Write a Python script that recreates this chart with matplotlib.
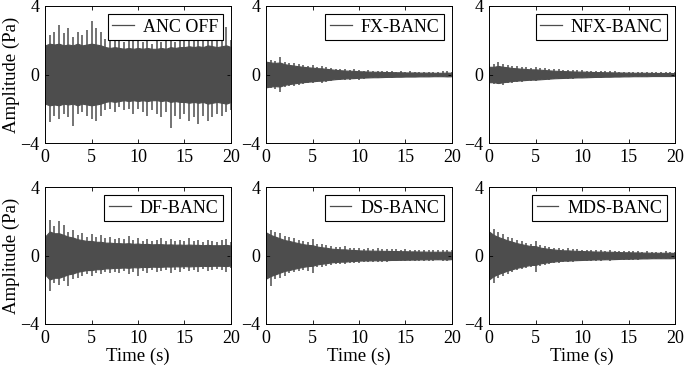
import numpy as np
import matplotlib
matplotlib.use("Agg")
import matplotlib.pyplot as plt

plt.rcParams['font.family'] = ['Liberation Serif', 'DejaVu Serif']
plt.rcParams['font.size'] = 13

# time grid of the envelope readings (s)
time_s = np.arange(0, 20.01, 0.5)

titles = ["ANC OFF", "FX-BANC", "NFX-BANC", "DF-BANC", "DS-BANC", "MDS-BANC"]

# Peak (spike) upper / lower values of each recorded signal (Pa), read every 0.5 s
anc_off_upper = [2.0, 2.3, 2.5, 2.9, 2.4, 2.7, 2.2, 2.5, 2.3, 2.6, 3.1, 2.7, 2.5, 2.1, 2.2, 2.0, 2.1, 1.9, 2.2, 2.0, 2.1,
                 1.9, 2.0, 1.8, 2.1, 1.9, 2.0, 2.3, 1.9, 2.2, 2.0, 2.4, 2.1, 2.3, 2.2, 2.5, 2.1, 2.4, 2.2, 2.8, 2.0]
anc_off_lower = [-2.3, -2.8, -2.4, -2.6, -2.3, -2.5, -3.0, -2.3, -2.2, -2.4, -2.6, -2.7, -2.4, -2.1, -2.0, -2.2, -1.9, -2.1, -2.0, -2.3, -2.0,
                 -2.2, -2.4, -2.1, -2.3, -2.5, -2.2, -3.1, -2.4, -2.6, -2.3, -2.7, -2.5, -2.9, -2.4, -2.7, -2.5, -2.3, -2.4, -2.2, -2.1]

fx_upper = [1.0, 0.85, 0.8, 1.0, 0.75, 0.7, 0.65, 0.6, 0.55, 0.5, 0.55, 0.45, 0.5, 0.42, 0.4, 0.35, 0.32, 0.3, 0.28, 0.3, 0.25,
            0.22, 0.24, 0.2, 0.22, 0.2, 0.18, 0.2, 0.17, 0.18, 0.16, 0.18, 0.15, 0.17, 0.15, 0.16, 0.15, 0.17, 0.18, 0.2, 0.15]
fx_lower = [-0.9, -0.8, -0.85, -1.0, -0.75, -0.7, -0.65, -0.6, -0.55, -0.5, -0.5, -0.45, -0.5, -0.42, -0.38, -0.35, -0.33, -0.3, -0.3, -0.28, -0.3,
            -0.25, -0.22, -0.2, -0.2, -0.18, -0.2, -0.18, -0.17, -0.16, -0.16, -0.17, -0.15, -0.16, -0.14, -0.15, -0.15, -0.16, -0.15, -0.17, -0.15]

nfx_upper = [0.6, 0.6, 0.75, 0.6, 0.55, 0.5, 0.48, 0.45, 0.42, 0.4, 0.42, 0.38, 0.36, 0.33, 0.3, 0.3, 0.28, 0.27, 0.26, 0.25, 0.24,
             0.22, 0.22, 0.2, 0.2, 0.19, 0.18, 0.18, 0.17, 0.16, 0.16, 0.15, 0.15, 0.14, 0.14, 0.14, 0.13, 0.13, 0.13, 0.13, 0.12]
nfx_lower = [-0.8, -0.55, -0.55, -0.6, -0.5, -0.48, -0.45, -0.42, -0.4, -0.38, -0.36, -0.35, -0.33, -0.3, -0.28, -0.27, -0.26, -0.25, -0.24, -0.23, -0.22,
             -0.21, -0.2, -0.19, -0.18, -0.17, -0.17, -0.16, -0.15, -0.15, -0.14, -0.14, -0.13, -0.13, -0.13, -0.12, -0.12, -0.12, -0.12, -0.12, -0.12]

df_upper = [1.2, 2.1, 1.7, 2.0, 1.8, 1.4, 1.5, 1.2, 1.3, 1.1, 1.25, 1.1, 1.2, 1.0, 1.1, 0.95, 1.05, 0.95, 1.15, 0.9, 1.0,
            0.85, 0.95, 0.85, 0.9, 1.0, 0.85, 0.95, 0.85, 0.9, 0.85, 1.0, 0.85, 0.9, 0.8, 0.9, 0.85, 0.8, 0.9, 0.95, 0.8]
df_lower = [-1.5, -2.1, -1.6, -1.7, -1.5, -1.8, -1.4, -1.3, -1.2, -1.1, -1.2, -1.0, -1.1, -0.95, -1.05, -0.95, -1.0, -0.9, -1.1, -0.95, -1.2,
            -0.9, -1.0, -0.85, -0.95, -0.9, -0.85, -1.0, -0.85, -0.95, -0.8, -0.9, -0.85, -0.95, -0.8, -0.9, -0.85, -0.8, -0.85, -0.95, -0.75]

ds_upper = [1.7, 1.5, 1.4, 1.3, 1.15, 1.1, 1.0, 0.9, 0.85, 0.8, 0.95, 0.7, 0.65, 0.6, 0.55, 0.5, 0.5, 0.55, 0.45, 0.45, 0.42,
            0.4, 0.42, 0.4, 0.45, 0.38, 0.4, 0.36, 0.38, 0.35, 0.36, 0.34, 0.35, 0.3, 0.32, 0.3, 0.3, 0.3, 0.32, 0.35, 0.3]
ds_lower = [-1.5, -1.8, -1.4, -1.3, -1.2, -1.05, -0.95, -0.9, -0.85, -0.9, -1.0, -0.7, -0.65, -0.6, -0.55, -0.5, -0.5, -0.48, -0.45, -0.45, -0.42,
            -0.4, -0.4, -0.38, -0.4, -0.36, -0.38, -0.35, -0.35, -0.34, -0.35, -0.32, -0.33, -0.3, -0.3, -0.3, -0.3, -0.28, -0.3, -0.3, -0.28]

mds_upper = [2.1, 1.55, 1.4, 1.25, 1.1, 1.0, 0.9, 0.85, 0.75, 0.7, 0.85, 0.6, 0.55, 0.5, 0.45, 0.42, 0.4, 0.45, 0.38, 0.36, 0.35,
             0.33, 0.32, 0.3, 0.32, 0.28, 0.3, 0.27, 0.28, 0.25, 0.27, 0.24, 0.25, 0.23, 0.24, 0.22, 0.22, 0.22, 0.24, 0.22, 0.2]
mds_lower = [-1.7, -1.6, -1.3, -1.2, -1.1, -0.95, -0.85, -0.8, -0.75, -0.7, -0.95, -0.6, -0.55, -0.5, -0.45, -0.42, -0.4, -0.4, -0.38, -0.35, -0.35,
             -0.33, -0.32, -0.3, -0.3, -0.28, -0.3, -0.27, -0.26, -0.25, -0.25, -0.24, -0.24, -0.23, -0.22, -0.22, -0.22, -0.21, -0.22, -0.21, -0.2]

# Half-width of the dense (solid-looking) body of each signal (Pa), every 0.5 s
anc_off_body = [1.7, 1.8, 1.75, 1.8, 1.7, 1.75, 1.7, 1.8, 1.7, 1.75, 1.8, 1.75, 1.7, 1.6, 1.55, 1.6, 1.55, 1.5, 1.55, 1.5, 1.55,
                1.5, 1.55, 1.5, 1.5, 1.55, 1.5, 1.6, 1.55, 1.6, 1.6, 1.65, 1.6, 1.65, 1.6, 1.7, 1.65, 1.6, 1.65, 1.7, 1.6]
fx_body = [0.75, 0.7, 0.68, 0.7, 0.6, 0.56, 0.52, 0.48, 0.45, 0.42, 0.4, 0.37, 0.36, 0.33, 0.3, 0.27, 0.25, 0.23, 0.22, 0.21, 0.19,
           0.18, 0.17, 0.16, 0.16, 0.15, 0.14, 0.14, 0.13, 0.13, 0.12, 0.12, 0.12, 0.11, 0.11, 0.11, 0.1, 0.1, 0.1, 0.11, 0.1]
nfx_body = [0.45, 0.45, 0.5, 0.45, 0.42, 0.38, 0.36, 0.34, 0.32, 0.3, 0.3, 0.28, 0.26, 0.24, 0.22, 0.21, 0.2, 0.19, 0.18, 0.17, 0.17,
            0.16, 0.15, 0.14, 0.14, 0.13, 0.13, 0.12, 0.12, 0.11, 0.11, 0.1, 0.1, 0.1, 0.1, 0.09, 0.09, 0.09, 0.09, 0.09, 0.08]
df_body = [1.1, 1.4, 1.3, 1.3, 1.2, 1.1, 1.05, 0.95, 0.9, 0.85, 0.85, 0.8, 0.8, 0.75, 0.75, 0.72, 0.72, 0.7, 0.72, 0.68, 0.7,
           0.66, 0.68, 0.65, 0.66, 0.66, 0.64, 0.65, 0.63, 0.64, 0.62, 0.64, 0.62, 0.62, 0.6, 0.62, 0.6, 0.6, 0.6, 0.62, 0.58]
ds_body = [1.35, 1.2, 1.1, 1.0, 0.9, 0.85, 0.78, 0.72, 0.66, 0.62, 0.6, 0.52, 0.48, 0.45, 0.4, 0.38, 0.36, 0.36, 0.33, 0.32, 0.3,
           0.29, 0.29, 0.28, 0.28, 0.27, 0.27, 0.26, 0.26, 0.25, 0.25, 0.24, 0.24, 0.23, 0.23, 0.22, 0.22, 0.22, 0.22, 0.23, 0.21]
mds_body = [1.4, 1.2, 1.08, 0.98, 0.88, 0.8, 0.72, 0.66, 0.6, 0.55, 0.55, 0.46, 0.42, 0.38, 0.35, 0.32, 0.3, 0.3, 0.28, 0.27, 0.26,
            0.25, 0.24, 0.23, 0.23, 0.22, 0.22, 0.21, 0.2, 0.19, 0.19, 0.18, 0.18, 0.17, 0.17, 0.16, 0.16, 0.16, 0.16, 0.16, 0.15]

uppers = [anc_off_upper, fx_upper, nfx_upper, df_upper, ds_upper, mds_upper]
lowers = [anc_off_lower, fx_lower, nfx_lower, df_lower, ds_lower, mds_lower]
bodies = [anc_off_body, fx_body, nfx_body, df_body, ds_body, mds_body]

x_ticks = [0, 5, 10, 15, 20]
y_ticks = [-4, 0, 4]
color = '#4d4d4d'

fig = plt.figure(figsize=(6.85, 3.76), dpi=100)
lefts = [45 / 685, 266 / 685, 489 / 685]
bottoms = [(376 - 143) / 376, (376 - 324) / 376]
w = 186 / 685
h = 137 / 376

for i in range(6):
    r, c = divmod(i, 3)
    ax = fig.add_axes([lefts[c], bottoms[r], w, h])
    up = np.array(uppers[i])
    lo = np.array(lowers[i])
    body = np.array(bodies[i])
    ax.fill_between(time_s, -body, body, color=color, linewidth=0.8, edgecolor=color)
    ax.vlines(time_s, lo, up, color=color, lw=1.1)
    ax.plot([], [], color=color, lw=0.9, label=titles[i])
    ax.set_xlim(0, 20)
    ax.set_ylim(-4, 4)
    ax.set_xticks(x_ticks)
    ax.set_yticks(y_ticks)
    ax.tick_params(direction='in', top=True, right=True, length=3, width=0.6,
                   labelsize=13, pad=4)
    for s in ax.spines.values():
        s.set_linewidth(0.7)
    if c == 0:
        ax.set_ylabel('Amplitude (Pa)', fontsize=13.5, labelpad=0)
    if r == 1:
        ax.set_xlabel('Time (s)', fontsize=13.5, labelpad=1)
    leg = ax.legend(loc='upper right', fontsize=13, frameon=True, fancybox=False,
                    edgecolor='black', framealpha=1, borderpad=0.25, handlelength=1.2,
                    handletextpad=0.5, borderaxespad=0.45)
    leg.get_frame().set_linewidth(0.8)

fig.savefig('out.png', dpi=100)
